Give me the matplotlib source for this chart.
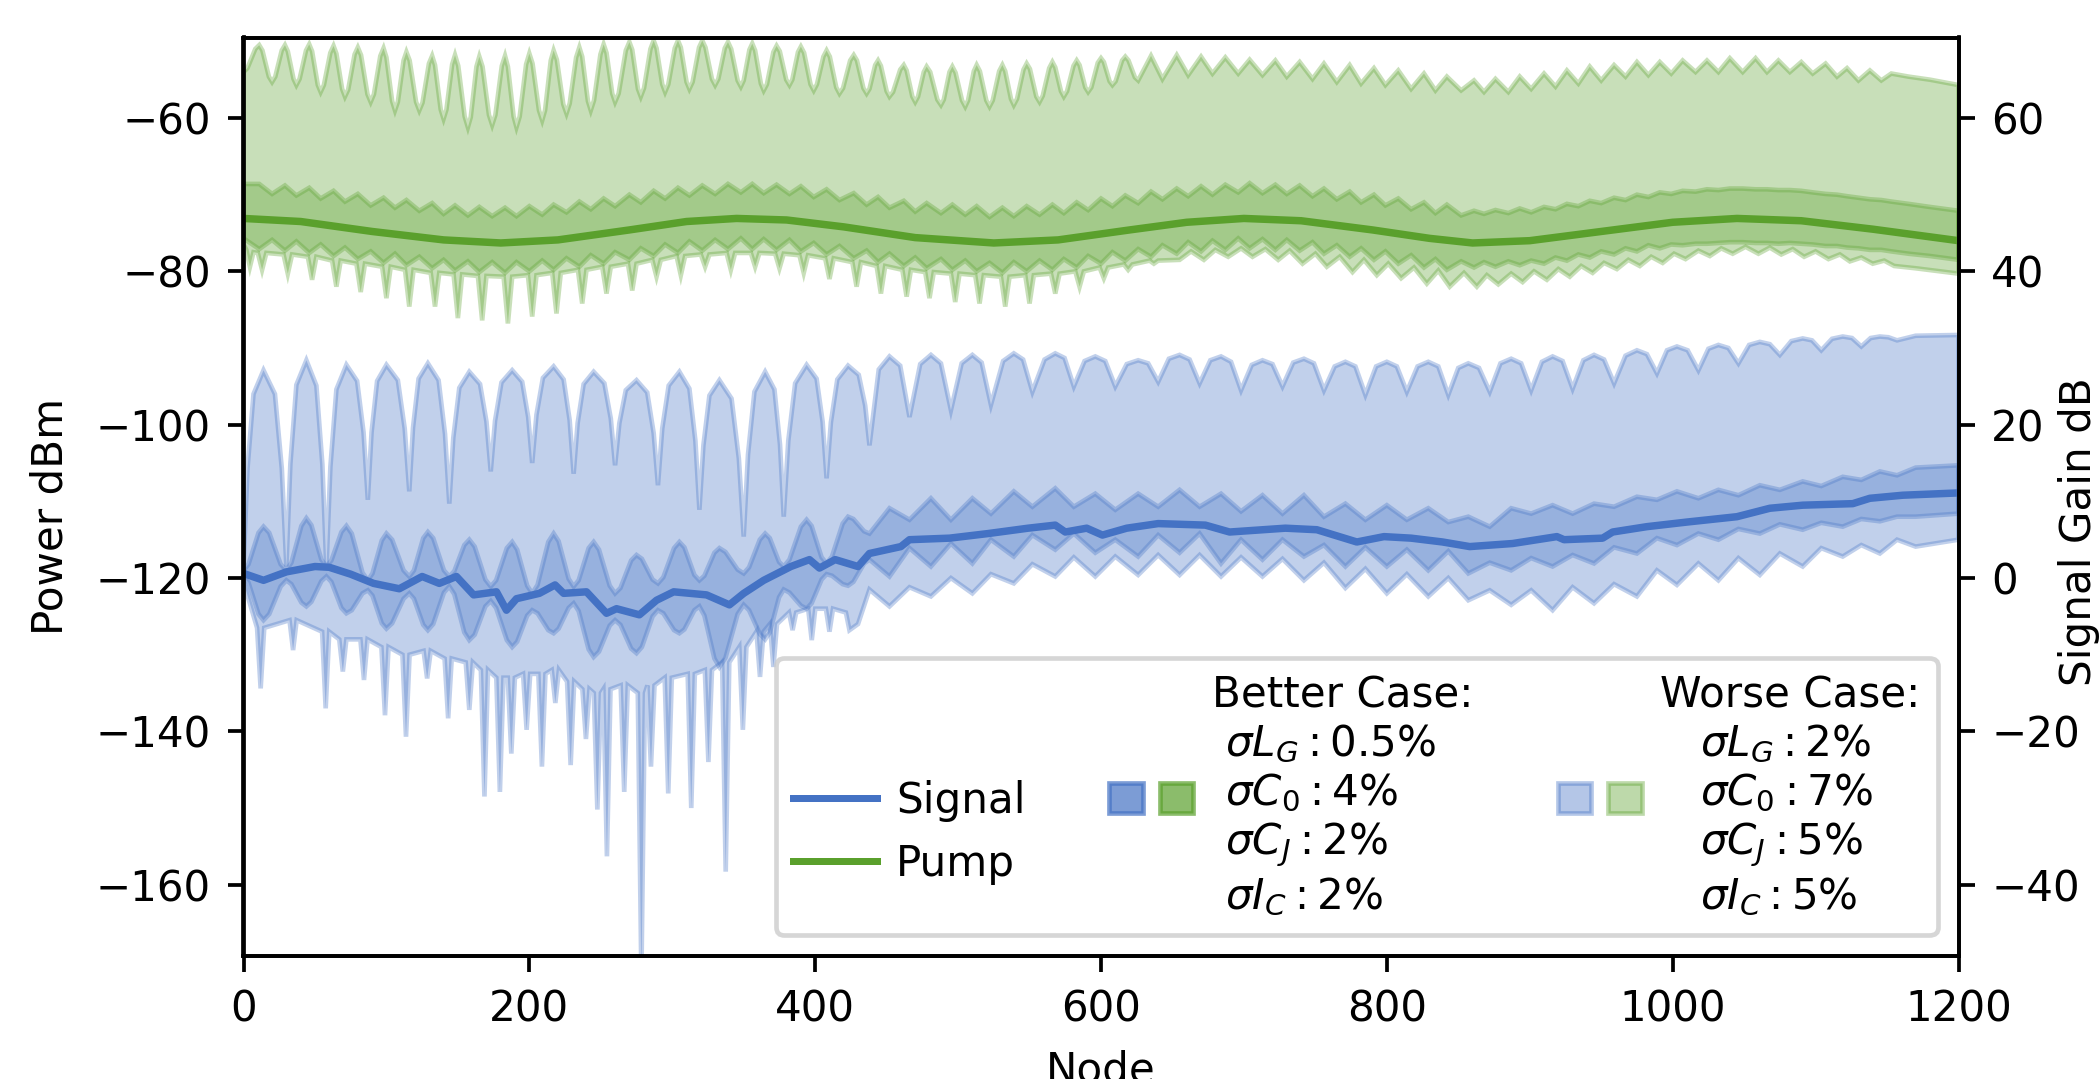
import numpy as np
import matplotlib
matplotlib.use("Agg")
import matplotlib.pyplot as plt
from matplotlib.lines import Line2D
from matplotlib.patches import Patch
from matplotlib.legend_handler import HandlerTuple

SIGNAL_COLOR = "#4472c4"
PUMP_COLOR = "#5aa02c"

# (node, power dBm)
SIGNAL_MEAN = [(0,-119.4),(14,-120.3),(30,-119.2),(50,-118.5),(60,-118.6),(75,-119.5),(91,-120.7),(109,-121.4),
    (125,-119.8),(137,-120.7),(149,-119.8),(161,-122.2),(177,-121.8),(184,-124.2),(191,-122.7),(207,-122.0),
    (218,-120.9),(224,-122.0),(240,-121.8),(254,-124.6),(261,-124.0),(277,-124.8),(289,-122.9),(301,-121.8),
    (324,-122.2),(340,-123.5),(350,-122.0),(364,-120.3),(383,-118.5),(396,-117.6),(403,-118.7),(414,-117.6),
    (430,-118.5),(438,-116.8),(460,-115.9),(466,-115.0),(494,-114.8),(521,-114.2),(549,-113.5),(568,-113.1),
    (575,-114.0),(590,-113.5),(601,-114.4),(618,-113.5),(640,-112.9),(673,-113.1),(690,-114.0),(729,-113.5),
    (751,-113.7),(779,-115.3),(798,-114.6),(817,-114.8),(839,-115.3),(858,-115.9),(888,-115.5),(919,-114.6),
    (924,-115.0),(951,-114.8),(958,-114.0),(982,-113.3),(1010,-112.7),(1045,-112.0),(1068,-110.9),
    (1091,-110.5),(1126,-110.3),(1138,-109.6),(1161,-109.2),(1200,-108.9)]

SIGNAL_WORSE_UP = [(0,-118.5),(2.8,-105.7),(7,-96.0),(14,-92.9),(22,-96.0),(26.8,-105.7),
    (30,-118.5),(32.8,-105.1),(37,-94.8),(44,-91.6),(51,-94.9),(55.2,-105.2),
    (58,-118.8),(60.8,-105.5),(65,-95.4),(72,-92.2),(79.5,-94.3),(84,-101.0),
    (87,-109.8),(89.6,-101.0),(93.5,-94.3),(100,-92.2),(108,-94.2),(112.8,-100.5),
    (116,-108.7),(118.6,-100.4),(122.5,-94.0),(129,-92.0),(136.5,-94.2),(141,-101.2),
    (144,-110.3),(146.8,-101.7),(151,-95.2),(158,-93.1),(165.5,-94.7),(170,-99.6),
    (173,-106.1),(176,-99.5),(180.5,-94.5),(188,-92.9),(195,-94.4),(199.2,-99.0),
    (202,-105.0),(205,-98.7),(209.5,-93.9),(217,-92.4),(224,-94.1),(228.2,-99.4),
    (231,-106.4),(233.8,-99.8),(238,-94.7),(245,-93.1),(252.5,-94.6),(257,-99.2),
    (260,-105.3),(263,-99.8),(267.5,-95.5),(275,-94.2),(282.5,-95.8),(287,-101.1),
    (290,-107.9),(293,-100.5),(297.5,-94.9),(305,-93.1),(312,-95.3),(316.2,-102.1),
    (319,-111.1),(321.8,-102.7),(326,-96.2),(333,-94.2),(341.5,-96.6),(346.6,-104.4),
    (350,-114.6),(353,-103.9),(357.5,-95.7),(365,-93.1),(371.5,-95.4),(375.4,-102.6),
    (378,-112.0),(381.2,-102.1),(386,-94.6),(394,-92.2),(401,-94.0),(405.2,-99.6),
    (408,-107.0),(411,-99.7),(415.5,-94.1),(423,-92.3),(430.5,-93.5),(435,-97.5),
    (438,-102.7),(444.5,-92.8),(452,-91.1),(459.5,-92.3),(466,-99.0),(473.5,-92.1),(481,-90.9),(488,-92.0),
    (495,-98.1),(502.5,-92.0),(510,-90.9),(516.5,-91.9),(523,-97.4),(531.5,-91.7),(539,-90.7),(545.5,-91.5),
    (552,-95.7),(560.5,-91.5),(568,-90.7),(574.5,-91.3),(581,-95.0),(588.5,-91.7),(596,-91.1),(603,-91.7),
    (610,-95.0),(618,-92.1),(626,-91.6),(633,-92.0),(640,-94.4),(647.5,-91.4),(655,-90.9),(662,-91.5),
    (669,-94.6),(676.5,-91.6),(684,-91.1),(691,-91.8),(698,-95.5),(705.5,-92.2),(713,-91.6),(720,-92.1),
    (727,-95.0),(734.5,-91.9),(742,-91.4),(749,-92.0),(756,-95.5),(763.5,-92.4),(771,-91.8),(778,-92.4),
    (785,-96.1),(792.5,-92.4),(800,-91.8),(807,-92.4),(814,-95.7),(821.5,-92.4),(829,-91.8),(836,-92.4),
    (843,-96.1),(850,-92.6),(857,-92.0),(864.5,-92.6),(872,-95.7),(879.5,-92.0),(887,-91.4),(894,-92.0),
    (901,-95.5),(908.5,-91.8),(916,-91.1),(923,-91.7),(930,-95.3),(937.5,-91.6),(945,-90.9),(952,-91.5),
    (959,-94.6),(967,-91.0),(975,-90.3),(982,-90.8),(989,-93.3),(996,-90.3),(1003,-89.8),(1010.5,-90.3),
    (1018,-92.9),(1025,-90.1),(1032,-89.6),(1039,-90.0),(1046,-92.0),(1053.5,-89.6),(1061,-89.2),(1068,-89.5),
    (1075,-90.9),(1083,-89.1),(1091,-88.75),(1097.5,-89.0),(1104,-90.3),(1111.5,-88.8),(1119,-88.5),
    (1125.5,-88.7),(1132,-89.8),(1138.5,-88.7),(1145,-88.5),(1151,-88.6),(1157,-89.0),(1170,-88.4),
    (1200,-88.3)]

SIGNAL_WORSE_LO = [(0,-120.5),
    (9.5,-126.5),(12,-134.4),(14.5,-126.5),(32.2,-125.5),(34.7,-129.4),(37.2,-125.5),
    (55,-127.0),(57.5,-137.0),(60,-127.0),(67,-128.0),(69.5,-132.2),(72,-128.0),
    (81.8,-128.0),(84.3,-133.3),(86.8,-128.0),(96.5,-129.0),(99,-137.9),(101.5,-129.0),
    (111.2,-130.0),(113.7,-140.7),(116.2,-130.0),(126,-129.5),(128.5,-133.1),(131,-129.5),
    (140.7,-130.5),(143.2,-138.3),(145.7,-130.5),(155.5,-131.0),(158,-137.2),(160.5,-131.0),
    (166.1,-132.0),(168.6,-148.5),(171.1,-132.0),(176.9,-133.0),(179.4,-147.9),(181.9,-133.0),
    (184.9,-133.0),(187.4,-142.9),(189.9,-133.0),(195.6,-132.5),(198.1,-139.8),(200.6,-132.5),
    (206.3,-132.5),(208.8,-144.6),(211.3,-132.5),(215.7,-132.0),(218.2,-136.3),(220.7,-132.0),
    (226.4,-133.5),(228.9,-144.4),(231.4,-133.5),(237.1,-134.5),(239.6,-141.0),(242.1,-134.5),
    (245.1,-135.0),(247.6,-150.2),(250.1,-135.0),(251.8,-134.5),(254.3,-156.3),(256.8,-134.5),
    (263.9,-134.0),(266.4,-147.9),(268.9,-134.0),(275.9,-135.0),(278.4,-172.0),(280.9,-135.0),
    (282.6,-134.0),(285.1,-144.6),(287.6,-134.0),(294.7,-133.0),(297.2,-148.1),(299.7,-133.0),
    (310.8,-132.5),(313.3,-150.0),(315.8,-132.5),(322.8,-132.0),(325.3,-144.0),(327.8,-132.0),
    (334.9,-131.0),(337.4,-158.3),(339.9,-131.0),(346.9,-129.0),(349.4,-139.8),(351.9,-129.0),
    (358.9,-127.0),(361.4,-132.9),(363.9,-127.0),(368.3,-126.0),(370.8,-131.6),(373.3,-126.0),
    (381.7,-124.5),(384.2,-126.8),(386.7,-124.5),(395.1,-124.0),(397.6,-128.1),(400.1,-124.0),
    (407.5,-124.0),(410,-127.0),(412.5,-124.0),(421.5,-124.5),(424,-126.8),(430,-126.0),
    (438,-121.5),(452,-123.7),(466,-121.2),(481,-122.4),(495,-120.0),(510,-122.0),(523,-119.5),
    (539,-120.7),(552,-118.2),(568,-119.8),(581,-117.3),(596,-119.8),(610,-117.2),(626,-119.6),
    (640,-117.0),(655,-119.6),(669,-117.0),(684,-119.8),(698,-117.3),(713,-119.8),(727,-117.5),
    (742,-120.3),(756,-118.0),(771,-121.3),(785,-118.8),(800,-122.0),(814,-119.5),(829,-122.4),
    (843,-120.0),(857,-122.9),(872,-121.6),(887,-123.5),(901,-121.6),(916,-124.2),(930,-121.2),
    (945,-123.3),(959,-120.8),(975,-122.4),(989,-119.0),(1003,-120.9),(1018,-118.1),(1032,-120.3),
    (1046,-117.4),(1061,-119.6),(1075,-116.8),(1091,-118.5),(1104,-116.1),(1119,-117.2),(1132,-115.7),
    (1145,-116.8),(1157,-115.0),(1170,-115.9),(1200,-115.0)]

SIGNAL_BETTER_UP = [(0,-119.0),(3.5,-118.2),(10.5,-114.1),(14,-113.3),(18,-114.1),(26,-118.2),
    (30,-119.0),(33.5,-118.0),(40.5,-113.2),(44,-112.2),(47.5,-113.1),(54.5,-117.6),
    (58,-118.5),(61.5,-117.7),(68.5,-114.0),(72,-113.2),(75.75,-114.2),(83.25,-119.3),
    (87,-120.3),(90.25,-119.4),(96.75,-115.1),(100,-114.2),(104,-115.0),(112,-119.0),
    (116,-119.8),(119.25,-119.0),(125.75,-114.8),(129,-114.0),(132.75,-114.8),(140.25,-119.0),
    (144,-119.8),(147.5,-119.1),(154.5,-115.7),(158,-115.0),(161.75,-115.9),(169.25,-120.2),
    (173,-121.1),(176.75,-120.3),(184.25,-116.1),(188,-115.3),(191.5,-116.3),(198.5,-121.0),
    (202,-122.0),(205.75,-120.9),(213.25,-115.3),(217,-114.2),(220.5,-115.2),(227.5,-120.1),
    (231,-121.1),(234.5,-120.3),(241.5,-116.1),(245,-115.3),(248.75,-116.3),(256.25,-121.0),
    (260,-122.0),(263.75,-121.3),(271.25,-117.7),(275,-117.0),(278.75,-117.5),(286.25,-120.2),
    (290,-120.7),(293.75,-119.9),(301.25,-116.1),(305,-115.3),(308.5,-116.0),(315.5,-119.6),
    (319,-120.3),(322.5,-119.7),(329.5,-116.7),(333,-116.1),(337.25,-116.6),(345.75,-118.9),
    (350,-119.4),(353.75,-118.6),(361.25,-115.0),(365,-114.2),(368.25,-114.8),(374.75,-117.9),
    (378,-118.5),(382,-117.6),(390,-113.3),(394,-112.4),(397.5,-113.2),(404.5,-117.3),
    (408,-118.1),(411.75,-117.2),(419.25,-112.9),(423,-112.0),(426.75,-112.3),(434.25,-113.9),
    (438,-114.2),
    (452,-110.9),(466,-112.4),(481,-109.6),(495,-112.4),(510,-109.6),(523,-111.6),(539,-108.7),(552,-110.7),
    (568,-108.3),(581,-110.7),(596,-109.0),(610,-111.1),(626,-109.0),(640,-110.7),(655,-108.5),(669,-110.7),
    (684,-109.0),(698,-111.3),(713,-109.2),(727,-111.6),(742,-109.2),(756,-112.0),(771,-110.3),(785,-112.4),
    (800,-110.5),(814,-112.4),(829,-110.9),(843,-112.7),(857,-112.0),(872,-113.3),(887,-110.9),(901,-111.6),
    (916,-110.5),(930,-111.6),(945,-110.3),(959,-110.7),(975,-109.4),(989,-109.8),(1003,-108.7),
    (1018,-109.6),(1032,-108.5),(1046,-109.2),(1061,-107.9),(1075,-108.5),(1091,-107.4),(1104,-108.0),
    (1119,-106.8),(1132,-107.2),(1145,-106.1),(1157,-106.6),(1170,-105.6),(1200,-105.3)]

SIGNAL_BETTER_LO = [(0,-119.8),(3.5,-120.6),(10.5,-124.7),(14,-125.5),(18,-124.7),(26,-121.1),
    (30,-120.3),(33.5,-120.8),(40.5,-123.2),(44,-123.7),(47.5,-123.1),(54.5,-120.4),
    (58,-119.8),(61.5,-120.5),(68.5,-123.9),(72,-124.6),(75.75,-124.2),(83.25,-122.0),
    (87,-121.6),(90.25,-122.3),(96.75,-125.9),(100,-126.6),(104,-125.9),(112,-122.7),
    (116,-122.0),(119.25,-122.7),(125.75,-126.1),(129,-126.8),(132.75,-126.0),(140.25,-121.9),
    (144,-121.1),(147.5,-122.1),(154.5,-127.1),(158,-128.1),(161.75,-127.4),(169.25,-123.7),
    (173,-123.0),(176.75,-123.9),(184.25,-128.1),(188,-129.0),(191.5,-128.3),(198.5,-124.9),
    (202,-124.2),(205.75,-124.6),(213.25,-126.8),(217,-127.2),(220.5,-126.6),(227.5,-123.9),
    (231,-123.3),(234.5,-124.3),(241.5,-129.3),(245,-130.3),(248.75,-129.6),(256.25,-126.2),
    (260,-125.5),(263.75,-126.1),(271.25,-129.2),(275,-129.8),(278.75,-129.0),(286.25,-125.0),
    (290,-124.2),(293.75,-124.6),(301.25,-126.8),(305,-127.2),(308.5,-126.7),(315.5,-124.2),
    (319,-123.7),(322.5,-124.9),(329.5,-130.5),(333,-131.6),(337.25,-130.4),(345.75,-124.7),
    (350,-123.5),(353.75,-124.2),(361.25,-127.3),(365,-128.0),(368.25,-127.1),(374.75,-122.5),
    (378,-121.5),(382,-121.9),(390,-123.6),(394,-124.0),(397.5,-123.3),(404.5,-120.2),
    (408,-119.5),(411.75,-119.7),(419.25,-120.8),(423,-121.0),(426.75,-120.5),(434.25,-118.1),
    (438,-117.6),
    (452,-119.8),(466,-116.1),(481,-118.5),(495,-115.5),(510,-118.1),(523,-115.0),(539,-117.2),(552,-114.4),
    (568,-116.3),(581,-114.2),(596,-116.7),(610,-115.0),(626,-117.2),(640,-114.4),(655,-116.7),(669,-114.2),
    (684,-118.1),(698,-115.0),(713,-117.6),(727,-115.0),(742,-117.2),(756,-115.7),(771,-118.5),(785,-116.0),
    (800,-118.5),(814,-116.3),(829,-119.0),(843,-116.5),(857,-119.4),(872,-118.0),(887,-119.0),(901,-117.4),
    (916,-118.5),(930,-117.0),(945,-118.1),(959,-116.0),(975,-116.8),(989,-114.8),(1003,-115.7),
    (1018,-114.2),(1032,-115.0),(1046,-113.6),(1061,-114.2),(1075,-113.0),(1091,-113.7),(1104,-112.8),
    (1119,-113.3),(1132,-112.3),(1145,-112.6),(1157,-112.0),(1170,-112.0),(1200,-111.6)]

PUMP_MEAN = [(0,-73.1),(40,-73.5),(90,-74.8),(140,-75.9),(180,-76.3),(220,-75.9),(270,-74.6),(310,-73.5),
    (345,-73.1),(380,-73.3),(420,-74.2),(470,-75.6),(525,-76.3),(570,-75.9),(620,-74.6),(660,-73.6),
    (700,-73.1),(740,-73.4),(790,-74.6),(830,-75.7),(860,-76.3),(900,-76.0),(950,-74.8),(1000,-73.6),
    (1045,-73.1),(1090,-73.4),(1140,-74.5),(1200,-76.0)]

PUMP_WORSE_UP = [(0,-54.0),(2.75,-53.5),(8.25,-51.0),(11,-50.5),(13.25,-51.2),(17.75,-54.6),
    (20,-55.3),(22.25,-54.6),(26.75,-51.2),(29,-50.5),(31,-51.3),(35,-54.9),
    (37,-55.7),(39.25,-54.9),(43.75,-51.2),(46,-50.4),(48,-51.3),(52,-55.7),
    (54,-56.6),(56.25,-55.7),(60.75,-51.5),(63,-50.6),(65,-51.6),(69,-56.2),
    (71,-57.2),(73.25,-56.3),(77.75,-51.7),(80,-50.8),(82.25,-51.8),(86.75,-56.9),
    (89,-57.9),(91.25,-56.9),(95.75,-51.9),(98,-50.9),(100,-52.1),(104,-57.8),
    (106,-59.0),(108,-57.9),(112,-52.5),(114,-51.4),(116.25,-52.5),(120.75,-57.9),
    (123,-59.0),(125.25,-58.0),(129.75,-52.9),(132,-51.9),(134,-53.1),(138,-58.9),
    (140,-60.1),(142,-58.9),(146,-53.0),(148,-51.8),(150.25,-53.2),(154.75,-59.8),
    (157,-61.2),(159,-59.9),(163,-53.3),(165,-52.0),(167.25,-53.3),(171.75,-59.6),
    (174,-60.9),(176.25,-59.6),(180.75,-53.2),(183,-51.9),(185,-53.3),(189,-59.8),
    (191,-61.2),(193.25,-59.8),(197.75,-53.0),(200,-51.6),(202.25,-52.9),(206.75,-59.0),
    (209,-60.3),(211,-59.0),(215,-52.5),(217,-51.2),(219.25,-52.4),(223.75,-58.2),
    (226,-59.4),(228.25,-58.1),(232.75,-52.1),(235,-50.8),(237,-52.0),(241,-57.8),
    (243,-59.0),(245.25,-57.7),(249.75,-51.7),(252,-50.4),(254,-51.5),(258,-56.8),
    (260,-57.9),(262.5,-56.8),(267.5,-51.2),(270,-50.1),(272,-51.1),(276,-56.2),
    (278,-57.2),(280.25,-56.1),(284.75,-51.0),(287,-49.9),(289,-50.9),(293,-55.6),
    (295,-56.6),(297.25,-55.6),(301.75,-50.9),(304,-49.9),(306,-50.8),(310,-55.3),
    (312,-56.2),(314.25,-55.3),(318.75,-50.8),(321,-49.9),(323.25,-50.8),(327.75,-54.9),
    (330,-55.7),(332.25,-54.9),(336.75,-50.9),(339,-50.1),(341.25,-51.0),(345.75,-55.1),
    (348,-55.9),(350,-55.1),(354,-51.1),(356,-50.3),(358,-51.2),(362,-55.5),
    (364,-56.4),(366.25,-55.6),(370.75,-51.4),(373,-50.6),(375.25,-51.3),(379.75,-55.0),
    (382,-55.7),(384,-55.0),(388,-51.4),(390,-50.7),(392.25,-51.5),(396.75,-55.6),
    (399,-56.4),(401.25,-55.6),(405.75,-52.0),(408,-51.2),(410.25,-52.0),(414.75,-56.0),
    (417,-56.8),(419.5,-56.1),(424.5,-52.5),(427,-51.8),(429.25,-52.5),(433.75,-56.1),
    (436,-56.8),(438,-56.2),(442,-53.1),(444,-52.5),(446,-53.2),(450,-56.5),
    (452,-57.2),(454.5,-56.6),(459.5,-53.7),(462,-53.1),(464,-53.8),(468,-57.2),
    (470,-57.9),(472,-57.2),(476,-54.0),(478,-53.3),(480.5,-54.0),(485.5,-57.6),
    (488,-58.3),(490,-57.6),(494,-54.0),(496,-53.3),(498.25,-54.1),(502.75,-57.7),
    (505,-58.5),(507,-57.7),(511,-53.9),(513,-53.1),(515.25,-53.9),(519.75,-57.7),
    (522,-58.5),(524.25,-57.7),(528.75,-53.9),(531,-53.1),(533,-53.9),(537,-57.5),
    (539,-58.3),(541.25,-57.5),(545.75,-53.7),(548,-52.9),(550.25,-53.6),(554.75,-57.2),
    (557,-57.9),(559.25,-57.1),(563.75,-53.5),(566,-52.7),(568,-53.4),(572,-56.5),
    (574,-57.2),(576.25,-56.5),(580.75,-53.2),(583,-52.5),(585,-53.1),(589,-56.0),
    (591,-56.6),(593.25,-56.0),(597.75,-52.8),(600,-52.2),(602,-52.7),(606,-55.2),
    (608,-55.7),(610.25,-55.2),(614.75,-52.5),(617,-52.0),(619.25,-52.5),(623.75,-54.7),
    (626,-55.1),
    (635,-51.9),(643,-54.9),(653,-51.8),(661,-54.4),(670,-52.0),(678,-54.2),(687,-52.1),(696,-54.2),
    (704,-52.4),(713,-54.4),(722,-52.5),(730,-54.6),(739,-52.7),(748,-54.9),(756,-52.9),(765,-55.3),
    (774,-53.1),(782,-55.5),(791,-53.5),(799,-55.7),(808,-53.8),(817,-56.2),(826,-54.2),(834,-56.4),
    (842,-54.6),(852,-56.4),(861,-55.1),(868,-56.6),(876,-54.9),(885,-56.6),(893,-54.6),(901,-56.2),
    (910,-54.2),(918,-55.9),(926,-53.8),(934,-55.5),(942,-53.3),(950,-55.1),(959,-53.1),(967,-54.6),
    (975,-52.7),(983,-54.4),(991,-52.7),(999,-54.2),(1007,-52.5),(1016,-54.0),(1024,-52.5),(1032,-54.0),
    (1040,-52.2),(1049,-54.0),(1058,-52.2),(1066,-54.0),(1074,-52.5),(1082,-54.0),(1090,-52.7),(1098,-54.2),
    (1107,-52.9),(1115,-54.6),(1122,-53.5),(1130,-55.1),(1138,-53.8),(1146,-55.1),(1153,-54.2),(1165,-54.6),
    (1180,-55.0),(1200,-55.7)]

PUMP_WORSE_LO = [(0,-76.5),(2,-77.2),(4.5,-79.4),(7,-77.5),(10,-77.6),(13,-79.8),(16,-77.6),
    (28,-77.8),(31,-80.3),(34,-77.8),(45,-78.1),(48,-81.1),(51,-78.1),(62,-78.6),(65,-82.0),(68,-78.6),
    (79,-79.0),(82,-82.7),(85,-79.0),(97,-79.4),(100,-83.5),(103,-79.4),(113,-79.8),(116,-84.6),(119,-79.8),
    (131,-80.2),(134,-84.6),(137,-80.2),(147,-80.4),(150,-86.1),(153,-80.4),(164,-80.6),(167,-86.4),(170,-80.6),
    (182,-80.7),(185,-86.8),(188,-80.7),(199,-80.5),(202,-85.9),(205,-80.5),(216,-80.2),(219,-85.5),(222,-80.2),
    (234,-79.8),(237,-84.2),(240,-79.8),(251,-79.4),(254,-82.9),(257,-79.4),(269,-79.0),(272,-82.5),(275,-79.0),
    (286,-78.5),(289,-80.7),(292,-78.5),(303,-78.0),(306,-80.5),(309,-78.0),(320,-77.8),(323,-79.4),(326,-77.8),
    (338,-77.6),(341,-79.8),(344,-77.6),(355,-77.6),(358,-79.4),(361,-77.6),(372,-77.7),(375,-79.6),(378,-77.7),
    (389,-77.9),(392,-80.2),(395,-77.9),(407,-78.3),(410,-81.0),(413,-78.3),(426,-78.8),(429,-82.0),(432,-78.8),
    (443,-79.3),(446,-82.9),(449,-79.3),(461,-79.8),(464,-83.3),(467,-79.8),(477,-80.1),(480,-83.5),(483,-80.1),
    (495,-80.3),(498,-84.0),(501,-80.3),(512,-80.5),(515,-84.2),(518,-80.5),(530,-80.7),(533,-84.6),(536,-80.7),
    (547,-80.5),(550,-84.2),(553,-80.5),(565,-80.3),(568,-82.9),(571,-80.3),(582,-80.0),(585,-82.0),(588,-80.0),
    (599,-79.5),(602,-80.9),(605,-79.5),(616,-79.1),(619,-79.8),(622,-79.1),(634,-78.6),(637,-79.0),(640,-78.6),
    (655,-78.5),(663,-77.4),(672,-78.5),(680,-77.2),(689,-78.1),(698,-77.0),(706,-78.1),(715,-77.1),
    (724,-78.5),(732,-77.3),(741,-79.0),(750,-77.7),(758,-79.4),(767,-78.1),(776,-80.1),(784,-78.5),
    (793,-80.5),(801,-79.0),(810,-80.9),(819,-79.5),(828,-81.6),(836,-79.9),(844,-82.0),(854,-80.2),
    (863,-82.0),(870,-80.5),(878,-81.7),(887,-80.3),(895,-81.4),(903,-80.0),(912,-81.1),(920,-79.7),
    (928,-80.7),(936,-79.3),(944,-80.2),(952,-78.9),(961,-79.7),(969,-78.5),(977,-79.3),(985,-78.1),
    (993,-78.9),(1001,-77.7),(1009,-78.4),(1018,-77.3),(1026,-78.0),(1034,-77.0),(1042,-77.7),(1051,-76.8),
    (1060,-77.7),(1068,-76.9),(1076,-77.8),(1084,-77.1),(1092,-78.1),(1100,-77.4),(1109,-78.4),(1117,-77.8),
    (1124,-78.7),(1132,-78.2),(1140,-79.0),(1148,-78.6),(1155,-79.3),(1170,-79.6),(1200,-80.3)]

PUMP_BETTER_UP = [(0,-68.6),(11,-68.6),(20,-69.9),(29,-68.8),(37,-70.1),(46,-69.1),(54,-70.5),(63,-69.5),
    (71,-70.9),(80,-69.9),(89,-71.4),(98,-70.4),(106,-71.7),(114,-70.7),(123,-72.1),(132,-71.1),(140,-72.5),
    (148,-71.4),(157,-72.7),(165,-71.6),(174,-72.8),(183,-71.7),(191,-72.8),(200,-71.5),(209,-72.6),
    (217,-71.3),(226,-72.3),(235,-70.9),(243,-71.9),(252,-70.5),(260,-71.5),(270,-70.0),(278,-71.0),
    (287,-69.5),(295,-70.5),(304,-69.1),(312,-70.1),(321,-68.8),(330,-69.9),(339,-68.6),(348,-69.7),
    (356,-68.6),(364,-69.8),(373,-68.7),(382,-69.9),(390,-68.9),(399,-70.3),(408,-69.3),(417,-70.7),
    (427,-69.8),(436,-71.3),(444,-70.3),(452,-71.7),(462,-70.8),(470,-72.2),(478,-71.1),(488,-72.4),
    (496,-71.3),(505,-72.6),(513,-71.5),(522,-72.9),(531,-71.7),(539,-72.8),(548,-71.5),(557,-72.6),
    (566,-71.3),(574,-72.4),(583,-71.0),(591,-72.0),(600,-70.5),(608,-71.5),(617,-70.1),(626,-71.1),
    (635,-69.6),(643,-70.6),(653,-69.2),(661,-70.2),(670,-68.9),(678,-70.0),(687,-68.7),(696,-69.7),
    (704,-68.5),(713,-69.8),(722,-68.7),(730,-69.9),(739,-68.8),(748,-70.2),(756,-69.2),(765,-70.6),
    (774,-69.6),(782,-71.0),(791,-70.0),(799,-71.4),(808,-70.5),(817,-71.9),(826,-71.0),(834,-72.4),
    (842,-71.3),(852,-72.7),(861,-72.1),(868,-72.5),(876,-72.0),(885,-72.4),(893,-71.8),(901,-72.3),
    (910,-71.6),(918,-71.9),(926,-71.2),(934,-71.5),(942,-70.8),(950,-71.1),(959,-70.4),(967,-70.7),
    (975,-70.0),(983,-70.3),(991,-69.7),(999,-69.9),(1007,-69.5),(1016,-69.6),(1024,-69.3),(1032,-69.4),
    (1040,-69.2),(1049,-69.2),(1058,-69.3),(1066,-69.3),(1074,-69.4),(1082,-69.4),(1090,-69.5),(1098,-69.7),
    (1107,-69.9),(1115,-70.0),(1122,-70.2),(1130,-70.4),(1138,-70.6),(1146,-70.7),(1153,-70.9),(1165,-71.2),
    (1180,-71.6),(1200,-72.1)]

PUMP_BETTER_LO = [(0,-75.7),(11,-77.1),(20,-75.9),(29,-77.3),(37,-76.1),(46,-77.6),(54,-76.5),(63,-78.0),
    (71,-76.9),(80,-78.4),(89,-77.4),(98,-78.9),(106,-77.7),(114,-79.2),(123,-78.1),(132,-79.6),(140,-78.5),
    (148,-79.9),(157,-78.7),(165,-80.1),(174,-78.8),(183,-80.2),(191,-78.8),(200,-80.0),(209,-78.6),
    (217,-79.8),(226,-78.3),(235,-79.4),(243,-77.9),(252,-79.0),(260,-77.5),(270,-78.5),(278,-77.0),
    (287,-78.0),(295,-76.5),(304,-77.6),(312,-76.1),(321,-77.3),(330,-75.9),(339,-77.1),(348,-75.7),
    (356,-77.1),(364,-75.8),(373,-77.2),(382,-75.9),(390,-77.4),(399,-76.3),(408,-77.8),(417,-76.7),
    (427,-78.3),(436,-77.3),(444,-78.8),(452,-77.7),(462,-79.3),(470,-78.2),(478,-79.6),(488,-78.4),
    (496,-79.8),(505,-78.6),(513,-80.0),(522,-78.9),(531,-80.2),(539,-78.8),(548,-80.0),(557,-78.6),
    (566,-79.8),(574,-78.4),(583,-79.5),(591,-78.0),(600,-79.0),(608,-77.5),(617,-78.6),(626,-77.1),
    (635,-78.1),(643,-76.6),(653,-77.7),(661,-76.2),(670,-77.4),(678,-76.0),(687,-77.2),(696,-75.7),
    (704,-77.0),(713,-75.8),(722,-77.2),(730,-75.9),(739,-77.3),(748,-76.2),(756,-77.7),(765,-76.6),
    (774,-78.1),(782,-77.0),(791,-78.5),(799,-77.4),(808,-79.0),(817,-77.9),(826,-79.5),(834,-78.4),
    (842,-79.8),(852,-78.7),(861,-79.5),(868,-78.8),(876,-79.4),(885,-78.7),(893,-79.2),(901,-78.6),
    (910,-79.0),(918,-78.2),(926,-78.6),(934,-77.8),(942,-78.2),(950,-77.4),(959,-77.8),(967,-77.0),
    (975,-77.4),(983,-76.6),(991,-77.0),(999,-76.5),(1007,-76.6),(1016,-76.4),(1024,-76.4),(1032,-76.3),
    (1040,-76.2),(1049,-76.2),(1058,-76.3),(1066,-76.3),(1074,-76.4),(1082,-76.3),(1090,-76.4),(1098,-76.5),
    (1107,-76.7),(1115,-76.7),(1122,-76.9),(1130,-77.0),(1138,-77.2),(1146,-77.2),(1153,-77.4),(1165,-77.7),
    (1180,-78.0),(1200,-78.5)]

BETTER_LABEL = ("Better Case:\n $\\sigma L_G: 0.5\\%$\n $\\sigma C_0: 4\\%$\n"
                " $\\sigma C_J: 2\\%$\n $\\sigma I_C: 2\\%$")
WORSE_LABEL = ("Worse Case:\n   $\\sigma L_G: 2\\%$\n   $\\sigma C_0: 7\\%$\n"
               "   $\\sigma C_J: 5\\%$\n   $\\sigma I_C: 5\\%$")

INPUT_POWER = -120.0   # signal gain = power - input power
YLIM = (-169.3, -49.5)

WORSE_ALPHA = 0.33
BETTER_ALPHA = 0.33


def band(ax, upper, lower, color, alpha):
    xu, yu = np.array(upper).T
    xl, yl = np.array(lower).T
    ax.fill(np.r_[xu, xl[::-1]], np.r_[yu, yl[::-1]], color=color, alpha=alpha, lw=1.0)


def main():
    plt.rcParams["font.size"] = 9
    fig = plt.figure(figsize=(2099 / 336, 1079 / 336), dpi=336)
    ax = fig.add_axes([243.5 / 2099, 1 - 956 / 1079, 1715 / 2099, 918.5 / 1079])

    band(ax, SIGNAL_WORSE_UP, SIGNAL_WORSE_LO, SIGNAL_COLOR, WORSE_ALPHA)
    band(ax, SIGNAL_BETTER_UP, SIGNAL_BETTER_LO, SIGNAL_COLOR, BETTER_ALPHA)
    band(ax, PUMP_WORSE_UP, PUMP_WORSE_LO, PUMP_COLOR, WORSE_ALPHA)
    band(ax, PUMP_BETTER_UP, PUMP_BETTER_LO, PUMP_COLOR, BETTER_ALPHA)

    sx, sy = np.array(SIGNAL_MEAN).T
    px, py = np.array(PUMP_MEAN).T
    ax.plot(sx, sy, color=SIGNAL_COLOR, lw=1.6)
    ax.plot(px, py, color=PUMP_COLOR, lw=1.6)

    ax.set_xlim(0, 1200)
    ax.set_ylim(*YLIM)
    ax.set_xticks(range(0, 1201, 200))
    ax.set_yticks(range(-160, -59, 20))
    ax.set_xlabel("Node")
    ax.set_ylabel("Power dBm")
    ax.yaxis.set_label_coords(-0.100, 0.479)

    ax2 = ax.twinx()
    ax2.set_ylim(YLIM[0] - INPUT_POWER, YLIM[1] - INPUT_POWER)
    ax2.set_yticks(range(-40, 61, 20))
    ax2.set_ylabel("Signal Gain dB")
    ax2.yaxis.set_label_coords(1.058, 0.462)

    handles = [
        Line2D([], [], color=SIGNAL_COLOR, lw=1.5),
        Line2D([], [], color=PUMP_COLOR, lw=1.5),
        (Patch(facecolor=SIGNAL_COLOR, edgecolor=SIGNAL_COLOR, alpha=0.7),
         Patch(facecolor=PUMP_COLOR, edgecolor=PUMP_COLOR, alpha=0.7)),
        (Patch(facecolor=SIGNAL_COLOR, edgecolor=SIGNAL_COLOR, alpha=0.4),
         Patch(facecolor=PUMP_COLOR, edgecolor=PUMP_COLOR, alpha=0.4)),
    ]
    labels = ["Signal", "Pump", BETTER_LABEL, WORSE_LABEL]
    ax2.legend(handles, labels, ncol=3, loc="lower right", handletextpad=0.45,
               handler_map={tuple: HandlerTuple(ndivide=None)})

    fig.savefig("out.png", dpi=336)
    plt.close(fig)


if __name__ == "__main__":
    main()
